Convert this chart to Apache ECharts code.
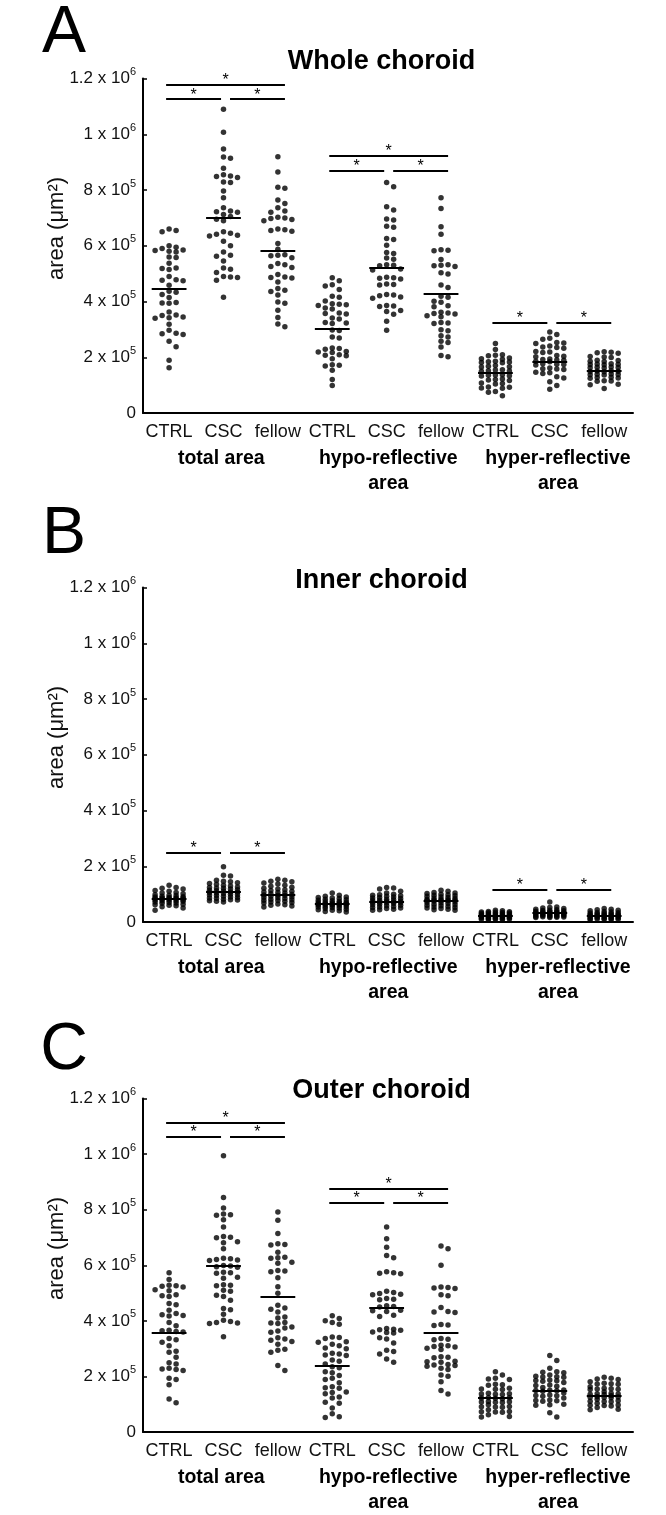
<!DOCTYPE html>
<html><head><meta charset="utf-8">
<script src="https://cdn.jsdelivr.net/npm/echarts@6/dist/echarts.min.js"></script>
<style>html,body{margin:0;padding:0;background:#fff}#c{width:666px;height:1515px}</style>
</head><body><div id="c"></div>
<script>
// ---------- DATA (values in 10^3 µm²) ----------
const UNIT = 1000;
const subLabels = ['CTRL', 'CSC', 'fellow'];
const groupLabels = ['total area', 'hypo-reflective\narea', 'hyper-reflective\narea'];
const panelTitles = ['Whole choroid', 'Inner choroid', 'Outer choroid'];
const panelLetters = ['A', 'B', 'C'];
const yTickMantissa = ['0', '2', '4', '6', '8', '1', '1.2'];
const yTickExp = ['', '5', '5', '5', '5', '6', '6'];

// Panel A: whole choroid
const A_total_CTRL = [660,655,650,600,595,590,585,583,580,578,560,558,537,520,518,515,490,478,476,474,458,437,433,425,414,396,395,394,362,352,350,344,342,340,318,297,286,284,282,257,238,189,162];
const A_total_CSC = [1090,1007,947,918,914,878,855,850,848,845,829,827,796,772,736,725,722,720,712,705,695,690,650,645,641,638,635,616,600,578,566,562,545,520,516,504,490,488,486,476,415];
const A_total_fellow = [919,865,810,806,764,752,736,725,720,702,700,698,694,690,660,657,655,652,608,587,568,566,564,557,536,532,526,522,497,488,486,484,470,447,440,436,423,398,394,369,343,319,309];
const A_hypo_CTRL = [485,474,460,456,443,419,415,402,392,390,388,386,377,373,359,357,355,341,337,325,323,321,298,296,273,269,233,231,229,221,219,217,209,207,205,195,173,171,169,153,120,99];
const A_hypo_CSC = [827,812,740,728,696,692,670,666,626,622,602,576,572,556,552,532,530,528,517,513,487,485,483,481,463,461,459,425,423,421,416,412,386,384,382,368,364,354,329,297];
const A_hypo_fellow = [772,734,668,641,586,584,582,551,532,530,528,526,503,499,459,450,419,415,401,397,385,381,361,359,357,355,349,345,325,323,321,299,295,277,273,257,253,237,206,202];
const A_hyper_CTRL = [249,228,209,207,205,197,195,193,186,184,183,181,180,170,168,166,165,155,154,152,151,150,137,136,135,134,133,122,120,118,117,108,106,104,93,92,90,89,77,74,62];
const A_hyper_CSC = [291,282,268,265,253,251,249,240,237,235,232,221,219,217,206,204,202,194,192,190,189,186,184,177,175,174,172,161,159,158,156,146,144,142,130,126,112,99,85];
const A_hyper_fellow = [220,218,216,214,203,201,199,189,188,186,185,177,176,175,174,173,165,164,163,162,161,152,151,150,149,148,140,139,138,137,136,128,127,126,125,116,115,114,103,101,88];
const A_means = [444, 702, 582, 303, 522, 429, 144, 183, 151];

// Panel B: inner choroid
const B_total_CTRL = [132,124,121,118,113,110,106,104,101,98,96,95,92,91,90,88,87,86,86,85,84,83,82,80,79,78,76,75,74,72,70,68,67,64,62,60,58,55,50,42];
const B_total_CSC = [198,168,165,150,146,144,141,138,135,132,129,126,124,122,121,118,116,114,112,111,108,107,106,104,102,100,98,97,95,92,90,88,86,85,82,80,79,76,74,72];
const B_total_fellow = [153,150,146,144,140,136,132,128,125,121,118,116,113,110,108,106,104,101,99,97,96,95,92,90,88,87,84,82,80,78,77,74,72,70,68,65,62,60,57,54];
const B_hypo_CTRL = [104,96,92,90,88,86,84,82,80,78,76,74,73,71,70,69,68,67,66,65,64,64,63,62,61,60,58,56,55,54,52,50,48,46,44,42,40,38,36];
const B_hypo_CSC = [124,122,118,110,104,100,98,96,94,92,90,88,86,84,82,80,78,77,75,74,72,71,70,69,68,66,64,62,60,58,56,54,52,50,48,46,44,42];
const B_hypo_fellow = [114,110,106,104,102,100,98,96,94,92,90,88,86,84,82,81,80,79,78,77,76,75,74,72,70,68,66,64,62,60,58,56,54,52,50,48,46,44,42];
const B_hyper_CTRL = [42,40,38,37,36,35,34,33,32,31,30,29,28,27,26,25,24,23,22,22,21,20,19,18,18,17,16,15,14,14,13,12,12,11,10,10,9,8];
const B_hyper_CSC = [72,54,52,50,48,46,44,42,41,40,39,38,37,36,35,34,33,32,32,31,30,30,29,28,27,26,25,24,23,22,21,20,20,19,18,17,16,16];
const B_hyper_fellow = [48,46,44,42,40,38,36,34,33,32,31,30,29,28,27,26,25,24,23,22,22,21,20,19,18,17,16,15,14,13,12,12,11,10,10,9,8];
const B_means = [84, 110, 96, 66, 74, 78, 22, 32, 22];

// Panel C: outer choroid
const C_total_CTRL = [573,549,528,526,524,522,512,508,494,490,488,462,458,438,426,422,419,417,394,382,366,364,362,360,336,332,323,310,291,287,269,249,245,229,227,225,221,193,189,170,119,105];
const C_total_CSC = [994,844,806,784,782,780,764,738,703,701,699,685,681,659,625,623,621,619,617,599,597,595,593,575,573,571,557,553,530,528,526,510,506,492,488,474,444,440,424,402,398,394,392,390,343];
const C_total_fellow = [792,762,714,677,675,673,647,629,627,625,611,607,581,579,577,555,523,499,456,446,442,432,414,410,394,392,390,378,374,363,359,339,335,330,326,316,298,294,287,239,221];
const C_hypo_CTRL = [418,408,400,394,388,342,340,336,325,323,316,310,302,300,283,281,277,275,259,255,245,235,231,217,213,203,193,189,177,163,159,157,144,142,138,126,122,107,103,86,66,55,52];
const C_hypo_CSC = [738,695,665,635,627,577,573,571,569,506,502,498,496,494,480,478,476,454,452,450,438,436,434,420,416,372,370,368,366,360,358,356,339,335,320,294,290,281,263,251];
const C_hypo_fellow = [669,659,600,522,520,518,516,494,490,448,434,432,430,387,385,383,336,334,332,312,310,308,306,301,297,271,269,267,255,253,251,243,241,239,237,229,225,205,201,181,149,137];
const C_hyper_CTRL = [217,205,193,191,189,172,170,168,157,155,154,153,139,138,137,136,135,124,123,122,121,120,110,109,108,107,106,92,91,90,89,74,73,72,71,56,54,62,80,98];
const C_hyper_CSC = [275,257,229,217,215,213,201,199,198,197,187,185,184,183,169,167,165,151,150,149,148,147,133,131,130,129,115,113,112,111,100,98,96,69,54,160,140,122,205,178];
const C_hyper_fellow = [197,193,191,189,175,174,173,172,157,156,155,154,153,139,138,137,136,135,127,126,125,124,123,112,111,110,109,97,96,95,94,82,80,145,118,103,163,181,130,88];
const C_means = [358, 597, 486, 237, 448, 358, 122, 149, 131];

const panelGroups = [
  [A_total_CTRL, A_total_CSC, A_total_fellow, A_hypo_CTRL, A_hypo_CSC, A_hypo_fellow, A_hyper_CTRL, A_hyper_CSC, A_hyper_fellow],
  [B_total_CTRL, B_total_CSC, B_total_fellow, B_hypo_CTRL, B_hypo_CSC, B_hypo_fellow, B_hyper_CTRL, B_hyper_CSC, B_hyper_fellow],
  [C_total_CTRL, C_total_CSC, C_total_fellow, C_hypo_CTRL, C_hypo_CSC, C_hypo_fellow, C_hyper_CTRL, C_hyper_CSC, C_hyper_fellow]
];
const panelMeans = [A_means, B_means, C_means];

// significance comparisons: [firstGroupPos, secondGroupPos, bar height (10^3 µm²)]
const sigA = [[1,2,1126],[2,3,1126],[1,3,1178],[4,5,870],[5,6,870],[4,6,922],[7,8,323],[8,9,323]];
const sigB = [[1,2,249],[2,3,249],[7,8,117],[8,9,117]];
const sigC = [[1,2,1063],[2,3,1063],[1,3,1113],[4,5,826],[5,6,826],[4,6,876]];
const panelSig = [sigA, sigB, sigC];

// ---------- LAYOUT ----------
const FONT = '"Liberation Sans", Arial, Helvetica, sans-serif';
const GL = 143, GW = 490, GH = 334.5;
const gridTops = [78.5, 587.5, 1098.5];
const XMIN = 0.52, XMAX = 9.53, YMAX = 1.2e6;
const PXV = GH / YMAX;
const PXU = GW / (XMAX - XMIN);
const COLW = 7 / PXU;
const DOT = 5.5;
const COLS = [0, 1, -1, 2, -2];

function swarm(vals, center) {
  const placed = [], out = [];
  const sorted = vals.map(v => v * UNIT).sort((a, b) => b - a);
  for (const v of sorted) {
    const py = v * PXV;
    let pick = null, bestGap = -1, bestK = 0;
    for (const k of COLS) {
      let gap = Infinity;
      for (const p of placed) if (p.k === k) gap = Math.min(gap, Math.abs(p.py - py));
      if (gap >= DOT) { pick = k; break; }
      if (gap > bestGap) { bestGap = gap; bestK = k; }
    }
    if (pick === null) pick = bestK;
    placed.push({ k: pick, py });
    out.push([center + pick * COLW, v]);
  }
  return out;
}

const grids = [], xAxes = [], yAxes = [], series = [], graphics = [];
const letterY = [33.5, 535, 1051];
const titleY = [62, 581, 1091];

panelGroups.forEach((groups, p) => {
  grids.push({ left: GL, top: gridTops[p], width: GW, height: GH });
  xAxes.push({
    type: 'value', gridIndex: p, min: XMIN, max: XMAX, position: 'bottom',
    axisLine: { show: true, onZero: false, lineStyle: { color: '#000', width: 2 } },
    axisTick: { show: false }, splitLine: { show: false },
    axisLabel: {
      customValues: [1,2,3,4,5,6,7,8,9], margin: 10,
      formatter: v => subLabels[(Math.round(v) - 1) % 3],
      fontFamily: FONT, fontSize: 18, color: '#111'
    }
  });
  xAxes.push({
    type: 'value', gridIndex: p, min: XMIN, max: XMAX, position: 'bottom',
    axisLine: { show: false }, axisTick: { show: false }, splitLine: { show: false },
    axisLabel: {
      customValues: [1.96, 5.03, 8.15], margin: 33,
      formatter: v => groupLabels[Math.round((v - 2) / 3)],
      fontFamily: FONT, fontSize: 19.5, fontWeight: 'bold', lineHeight: 25, color: '#000'
    }
  });
  yAxes.push({
    type: 'value', gridIndex: p, min: 0, max: YMAX, interval: 200000,
    axisLine: { show: true, lineStyle: { color: '#000', width: 2 } },
    axisTick: { show: true, inside: true, length: 4, lineStyle: { color: '#000', width: 1.5 } },
    splitLine: { show: false },
    axisLabel: {
      margin: 7, color: '#111',
      formatter: v => { const i = Math.round(v / 200000); return i === 0 ? '{a|0}' : '{a|' + yTickMantissa[i] + ' x 10}{s|' + yTickExp[i] + '}'; },
      rich: {
        a: { fontFamily: FONT, fontSize: 17, lineHeight: 24, color: '#111' },
        s: { fontFamily: FONT, fontSize: 11, lineHeight: 13, verticalAlign: 'top', color: '#111' }
      }
    }
  });

  const pts = [];
  groups.forEach((vals, g) => pts.push(...swarm(vals, g + 1)));
  const meanLines = panelMeans[p].map((m, g) => [
    { coord: [g + 1 - 0.32, m * UNIT] }, { coord: [g + 1 + 0.32, m * UNIT] }
  ]);
  series.push({
    type: 'scatter', xAxisIndex: p * 2, yAxisIndex: p, data: pts,
    symbol: 'circle', symbolSize: DOT, itemStyle: { color: '#000' }, silent: true,
    markLine: {
      silent: true, symbol: ['none', 'none'], label: { show: false },
      lineStyle: { color: '#000', width: 2, type: 'solid' }, data: meanLines
    }
  });
  const sigLines = panelSig[p].map(([a, b, h]) => {
    const x1 = a + ((a - 1) % 3 === 0 ? -0.055 : 0.12);
    const x2 = b + ((b - 1) % 3 === 2 ? 0.13 : -0.045);
    return [{ coord: [x1, h * UNIT] }, { coord: [x2, h * UNIT] }];
  });
  series.push({
    type: 'scatter', xAxisIndex: p * 2, yAxisIndex: p, data: [], silent: true,
    markLine: {
      silent: true, symbol: ['none', 'none'],
      lineStyle: { color: '#000', width: 2, type: 'solid' },
      label: { show: true, position: 'middle', formatter: '*', color: '#000', fontFamily: FONT, fontSize: 16, distance: 0, offset: [0, 4] },
      data: sigLines
    }
  });

  graphics.push({ type: 'text', x: 64, y: letterY[p], style: { text: panelLetters[p], fontFamily: FONT, fontSize: 66, fill: '#000', align: 'center', verticalAlign: 'middle' } });
  graphics.push({ type: 'text', x: 381.5, y: titleY[p], style: { text: panelTitles[p], fontFamily: FONT, fontSize: 27, fontWeight: 'bold', fill: '#000', align: 'center', verticalAlign: 'middle' } });
  graphics.push({ type: 'text', x: 57, y: gridTops[p] + 150, rotation: Math.PI / 2, style: { text: 'area (μm²)', fontFamily: FONT, fontSize: 22, fill: '#111', align: 'center', verticalAlign: 'middle' } });
});

const chart = echarts.init(document.getElementById('c'), null, { renderer: 'canvas' });
chart.setOption({
  animation: false, backgroundColor: '#fff',
  grid: grids, xAxis: xAxes, yAxis: yAxes, series: series, graphic: graphics
});
</script></body></html>
